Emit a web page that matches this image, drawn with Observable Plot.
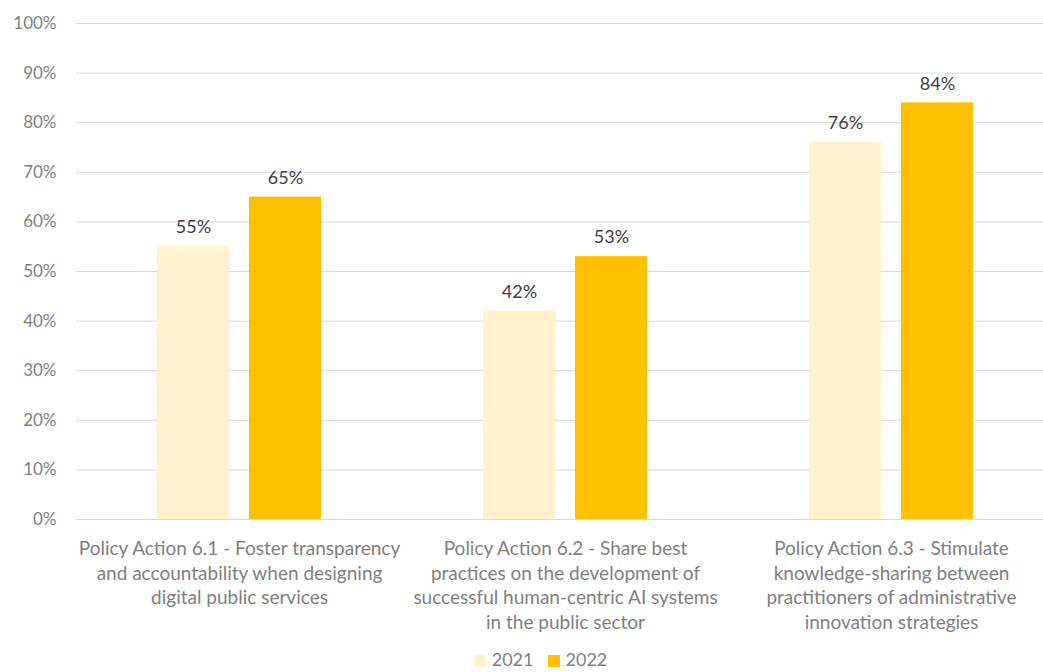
<!DOCTYPE html>
<html><head><meta charset="utf-8">
<script src="https://cdn.jsdelivr.net/npm/d3@7"></script>
<script src="https://cdn.jsdelivr.net/npm/@observablehq/plot@0.6"></script>
<style>
body{margin:0;background:#fff;font-family:Lato,"Open Sans",sans-serif;}
#legend{display:flex;justify-content:center;gap:14px;font-size:18px;color:#7f7f7f;margin-top:8px;margin-left:38px}
#legend span.sw{display:inline-block;width:12px;height:12px;margin-right:6px;vertical-align:-1px}
</style></head>
<body><div id="chart"></div><div id="legend"></div>
<script>
const categories = [
  "Policy Action 6.1 - Foster transparency\nand accountability when designing\ndigital public services",
  "Policy Action 6.2 - Share best\npractices on the development of\nsuccessful human-centric AI systems\nin the public sector",
  "Policy Action 6.3 - Stimulate\nknowledge-sharing between\npractitioners of administrative\ninnovation strategies"
];
const years = ["2021", "2022"];
const values2021 = [0.55, 0.42, 0.76];
const values2022 = [0.65, 0.53, 0.84];
const yTicks = [0,0.1,0.2,0.3,0.4,0.5,0.6,0.7,0.8,0.9,1.0];
const colors = ["#FFF2CC", "#FFC000"];

const data = [];
categories.forEach((c,i)=>{
  data.push({cat:c, year:"2021", v:values2021[i]});
  data.push({cat:c, year:"2022", v:values2022[i]});
});
const d21 = data.filter(d=>d.year==="2021");
const d22 = data.filter(d=>d.year==="2022");
const fmt = d=>Math.round(d*100)+"%";

const chart = Plot.plot({
  width: 1043, height: 640,
  marginLeft: 76, marginRight: -11, marginTop: 23, marginBottom: 121,
  style:{fontFamily:"Lato, 'Open Sans', sans-serif", fontSize:"16px", background:"#fff"},
  x:{domain:categories, padding:0, axis:null},
  y:{domain:[0,1], axis:null},
  color:{domain:years, range:colors},
  marks:[
    Plot.gridY(yTicks, {stroke:"#d9d9d9", strokeOpacity:1}),
    Plot.axisY({ticks:yTicks, tickFormat:fmt, tickSize:0, tickPadding:20, fontSize:17, fill:"#7f7f7f", color:"#7f7f7f", label:null}),
    Plot.barY(d21, {x:"cat", y:"v", fill:"year", insetLeft:127, insetRight:127, dx:-46}),
    Plot.barY(d22, {x:"cat", y:"v", fill:"year", insetLeft:127, insetRight:127, dx:46}),
    Plot.text(d21, {x:"cat", y:"v", text:d=>fmt(d.v), dx:-46, dy:-19, fontSize:18, fill:"#404040"}),
    Plot.text(d22, {x:"cat", y:"v", text:d=>fmt(d.v), dx:46, dy:-19, fontSize:18, fill:"#404040"}),
    Plot.axisX({tickSize:0, tickPadding:18, fontSize:19, fill:"#7f7f7f", color:"#7f7f7f", lineHeight:1.3, label:null})
  ]
});
document.getElementById("chart").appendChild(chart);

const lg = document.getElementById("legend");
years.forEach((y,i)=>{
  const s=document.createElement("span");
  s.innerHTML=`<span class="sw" style="background:${colors[i]}"></span>${y}`;
  lg.appendChild(s);
});
</script></body></html>
